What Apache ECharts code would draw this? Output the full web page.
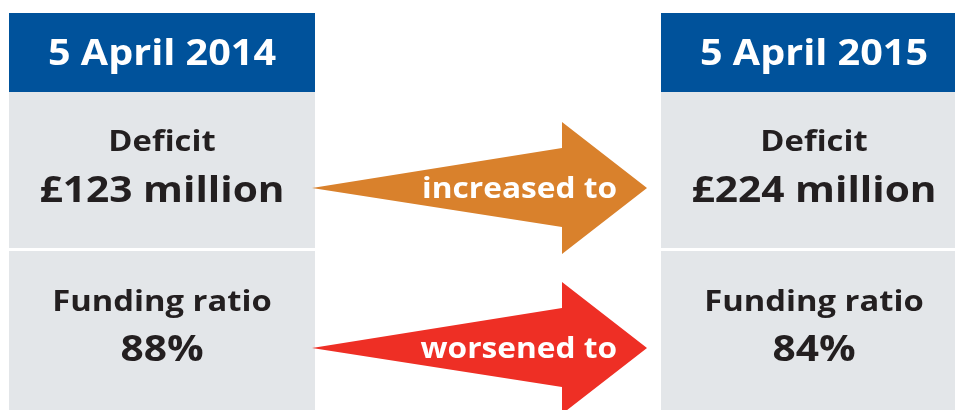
<!DOCTYPE html>
<html>
<head>
<meta charset="utf-8">
<script src="https://cdn.jsdelivr.net/npm/echarts@6/dist/echarts.min.js"></script>
<style>
html,body{margin:0;padding:0;background:#fff;}
#chart{width:955px;height:410px;}
</style>
</head>
<body>
<div id="chart"></div>
<script>
// Data
var dates = ['5 April 2014', '5 April 2015'];
var metrics = ['Deficit', 'Funding ratio'];
var deficitValues = ['£123 million', '£224 million'];
var fundingRatioValues = ['88%', '84%'];
var changeLabels = ['increased to', 'worsened to'];

// Layout / style
var FONT = '"Open Sans", sans-serif';
var SX = 1.13;
var panelX = [9, 661];
var panelW = 306;
var headerY = 13, headerH = 79;
var cellY = [92, 251], cellH = [156, 159];
var labelY = [143, 303];
var valueY = [192, 351];
var arrowY = [188, 348];
var arrowColors = ['#D9812C', '#EE2F25'];
var valueRows = [deficitValues, fundingRatioValues];

function txt(x, y, s, size, align, fill) {
  return {type: 'text', x: x, y: y, scaleX: SX, style: {x: 0, y: 0, text: s, fill: fill,
    font: '700 ' + size + 'px ' + FONT, textAlign: align, textVerticalAlign: 'middle'}};
}

var g = [];
panelX.forEach(function (px, i) {
  var cx = px + panelW / 2;
  g.push({type: 'rect', shape: {x: px, y: headerY, width: panelW, height: headerH}, style: {fill: '#00529B'}});
  g.push(txt(cx, headerY + headerH / 2 + 3, dates[i], 35, 'center', '#fff'));
  metrics.forEach(function (m, j) {
    g.push({type: 'rect', shape: {x: px, y: cellY[j], width: panelW, height: cellH[j]}, style: {fill: '#E3E6E9'}});
    g.push(txt(cx, labelY[j], m, 29, 'center', '#231F20'));
    g.push(txt(cx, valueY[j], valueRows[j][i], 36, 'center', '#231F20'));
  });
});
arrowY.forEach(function (ay, j) {
  g.push({type: 'polygon', shape: {points: [
    [312, ay], [562, ay - 40], [562, ay - 66], [647, ay], [562, ay + 66], [562, ay + 39]
  ]}, style: {fill: arrowColors[j]}});
  g.push(txt(617, ay + 2, changeLabels[j], 28, 'right', '#fff'));
});

var chart = echarts.init(document.getElementById('chart'), null, {renderer: 'canvas'});
chart.setOption({animation: false, backgroundColor: '#fff', graphic: {elements: g}});
</script>
</body>
</html>
